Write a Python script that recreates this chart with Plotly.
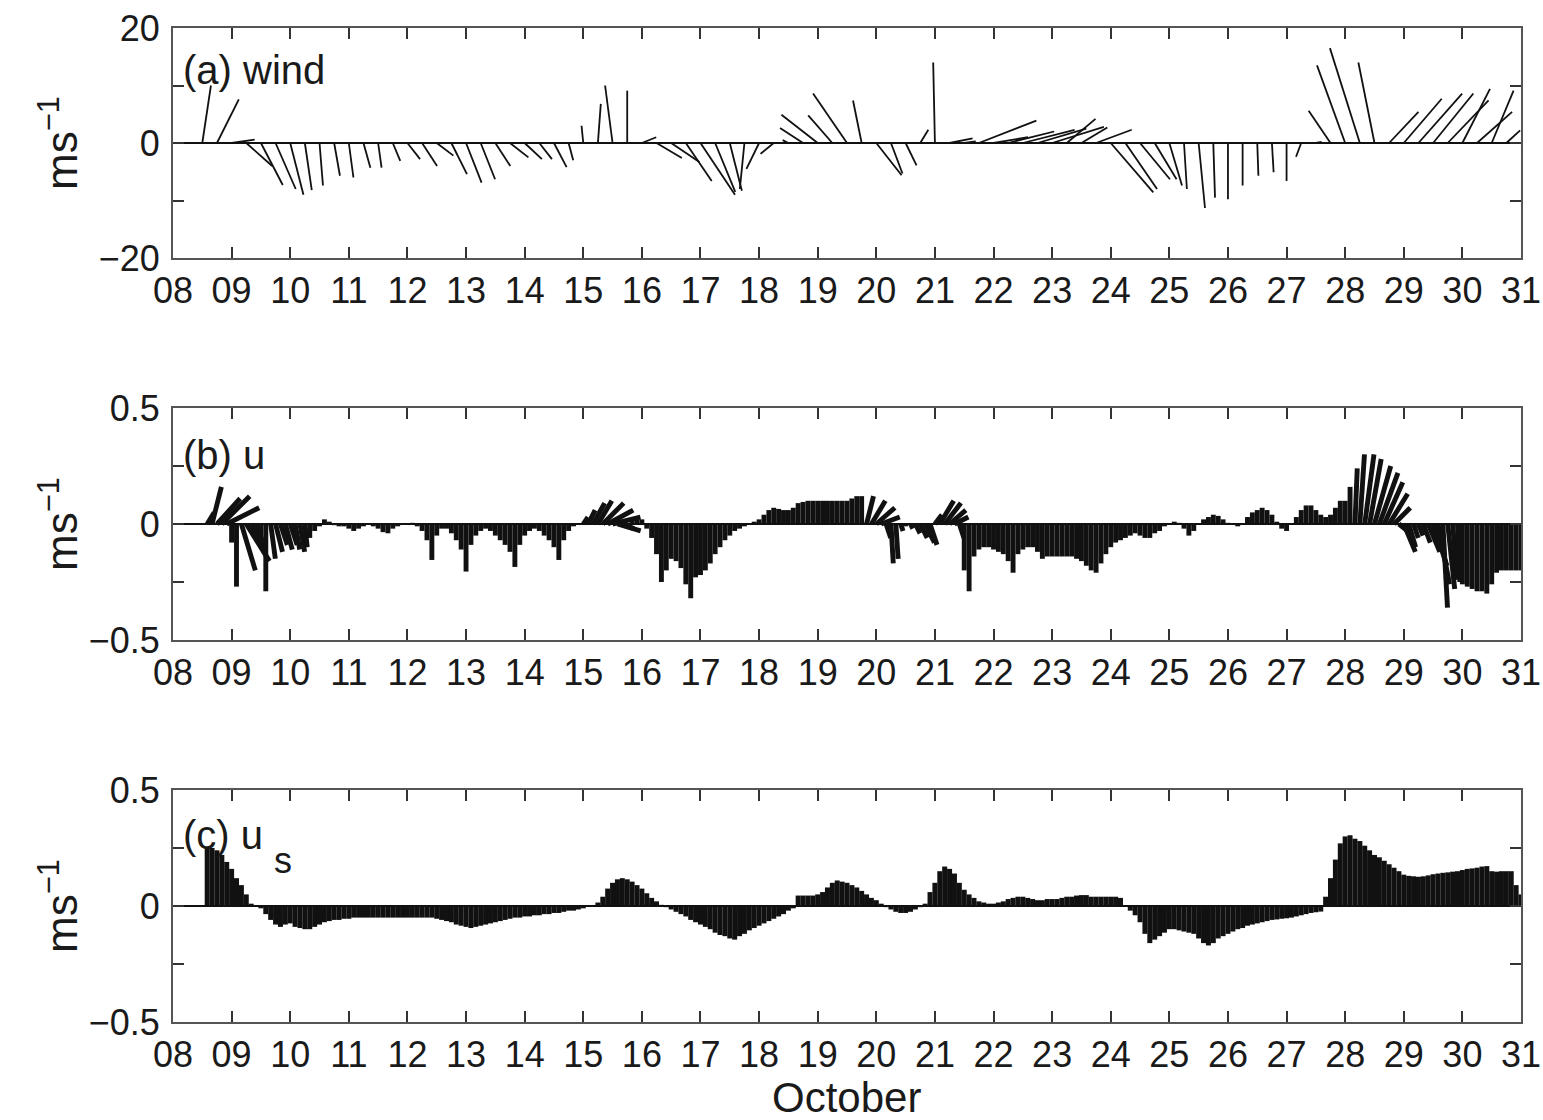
import numpy as np
import plotly.graph_objects as go

FIG_W, FIG_H = 1543, 1120
FONT = "Liberation Sans, Arial, Helvetica, sans-serif"

# day-of-October ticks shared by all panels
day_ticks = list(range(8, 32))
day_labels = [f"{d:02d}" for d in day_ticks]

# ---------------- (a) wind, 6-hourly from 08.5 Oct (m s-1) ----------------
wind_start, wind_step = 8.5, 0.25
wind_u = [
    1.5, 3.8,                                   # 08
    4.0, 4.5, 3.8, 3.5,                         # 09
    2.3, 1.2, 0.6, 1.0,                         # 10
    0.8, 1.2, 0.6, 1.3,                         # 11
    2.2, 2.6, 2.9, 2.7,                         # 12
    2.7, 2.5, 2.6, 3.2,                         # 13
    3.0, 2.2, 2.2, 0.8,                         # 14
    -0.3, 0.5, -1.3, 0.0,                       # 15
    2.5, 4.4, 4.9, 4.5,                         # 16
    6.0, 3.5, 2.1, -0.8,                        # 17
    -2.2, -2.3, -1.0, -4.0,                     # 18
    -6.3, -4.2, -5.9, -1.5,                     # 19
    4.4, 2.0, 1.9, 1.4,                         # 20
    -0.3, 4.0, 2.0, 10.0,                       # 21
    6.0, 8.0, 9.0, 8.5,                         # 22
    9.0, 5.0, 4.5, 6.2,                         # 23
    7.4, 5.5, 5.2, 3.8,                         # 24
    2.2, 0.5, 1.1, 0.3,                         # 25
    0.0, 0.0, 0.2, 0.3,                         # 26
    0.0, -0.9, 1.0, -3.8,                       # 27
    -4.9, -5.2, -2.8, 5.1,                      # 28
    6.6, 7.6, 7.0, 7.1,                         # 29
    4.8, 6.1, 3.8, 2.4,                         # 30
    2.3,                                        # 31
]
wind_v = [
    10.0, 7.6,
    0.6, -4.0, -7.3, -8.0,
    -9.0, -8.2, -7.4, -5.7,
    -6.0, -4.3, -4.3, -3.1,
    -2.8, -4.0, -2.2, -5.4,
    -6.9, -6.3, -4.0, -2.5,
    -2.8, -2.8, -4.2, -3.0,
    3.0, 6.8, 10.0, 9.1,
    1.0, -2.6, -3.3, -6.6,
    -9.0, -8.5, -8.3, -8.0,
    -4.5, -1.9, 0.5, 2.6,
    4.9, 4.8, 8.6, 7.4,
    -5.6, -5.3, -3.9, 2.3,
    14.0, 0.8, 0.3, 3.9,
    1.0, 2.0, 2.3, 2.5,
    2.8, 4.2, 2.7, 2.3,
    -8.6, -8.0, -6.3, -6.3,
    -7.4, -8.0, -11.3, -9.5,
    -9.8, -7.4, -5.7, -5.1,
    -6.6, -2.4, 0.2, 5.6,
    13.5, 16.5, 14.0, 5.4,
    7.7, 8.6, 8.6, 7.4,
    9.4, 5.4, 9.1, 2.2,
    -2.2,
]

# ---------------- (b) current u, 2-hourly from 08.5 Oct (m s-1) ----------------
cur_start, cur_step = 8.5, 1.0 / 12.0
cur_u = [
    0.00, 0.03, 0.04, 0.10, 0.12, 0.14,                                   # 08
    0.00, 0.00, 0.06, 0.10, 0.06, 0.03, 0.00, 0.00, 0.02, 0.03, 0.03, 0.03,  # 09
    0.03, 0.02, 0.02, 0.01, 0.00, 0.00, 0.00, 0.00, 0.00, 0.00, 0.00, 0.00,  # 10
    0.00, 0.00, 0.00, 0.00, 0.00, 0.00, 0.00, 0.00, 0.00, 0.00, 0.00, 0.00,  # 11
    0.00, 0.00, 0.00, 0.00, 0.00, 0.00, 0.00, 0.00, 0.00, 0.00, 0.00, 0.00,  # 12
    0.00, 0.00, 0.00, 0.00, 0.00, 0.00, 0.00, 0.00, 0.00, 0.00, 0.00, 0.00,  # 13
    0.00, 0.00, 0.00, 0.00, 0.00, 0.00, 0.00, 0.00, 0.00, 0.00, 0.00, 0.00,  # 14
    0.02, 0.03, 0.05, 0.06, 0.09, 0.11, 0.12, 0.10, 0.05, 0.00, 0.00, 0.00,  # 15
    0.00, 0.00, 0.00, 0.00, 0.00, 0.00, 0.00, 0.00, 0.00, 0.00, 0.00, 0.00,  # 16
    0.00, 0.00, 0.00, 0.00, 0.00, 0.00, 0.00, 0.00, 0.00, 0.00, 0.00, 0.00,  # 17
    0.00, 0.00, 0.00, 0.00, 0.00, 0.00, 0.00, 0.00, 0.00, 0.00, 0.00, 0.00,  # 18
    0.00, 0.00, 0.00, 0.00, 0.00, 0.00, 0.00, 0.00, 0.00, 0.00, 0.03, 0.06,  # 19
    0.08, 0.08, 0.02, 0.01, 0.01, 0.01, 0.00, 0.01, 0.02, 0.03, 0.04, 0.03,  # 20
    0.03, 0.06, 0.07, 0.07, 0.06, 0.02, 0.00, 0.00, 0.00, 0.00, 0.00, 0.00,  # 21
    0.00, 0.00, 0.00, 0.00, 0.00, 0.00, 0.00, 0.00, 0.00, 0.00, 0.00, 0.00,  # 22
    0.00, 0.00, 0.00, 0.00, 0.00, 0.00, 0.00, 0.00, 0.00, 0.00, 0.00, 0.00,  # 23
    0.00, 0.00, 0.00, 0.00, 0.00, 0.00, 0.00, 0.00, 0.00, 0.00, 0.00, 0.00,  # 24
    0.00, 0.00, 0.00, 0.00, 0.00, 0.00, 0.00, 0.00, 0.00, 0.00, 0.00, 0.00,  # 25
    0.00, 0.00, 0.00, 0.00, 0.00, 0.00, 0.00, 0.00, 0.00, 0.00, 0.00, 0.00,  # 26
    0.00, 0.00, 0.00, 0.00, 0.00, 0.00, 0.00, 0.00, 0.00, 0.00, 0.00, 0.00,  # 27
    0.00, 0.00, 0.01, 0.02, 0.04, 0.05, 0.07, 0.08, 0.08, 0.08, 0.07, 0.05,  # 28
    0.05, 0.03, 0.02, 0.02, 0.03, 0.05, 0.06, 0.05, 0.02, 0.03, 0.02, 0.01,  # 29
    0.00, 0.00, 0.00, 0.00, 0.00, 0.00, 0.00, 0.00, 0.00, 0.00, 0.00, 0.00,  # 30
    0.00,                                                                 # 31
]
cur_v = [
    0.00, 0.05, 0.16, 0.11, 0.12, 0.07,
    -0.08, -0.27, -0.20, -0.16, -0.10, -0.08, -0.10, -0.29, -0.15, -0.12, -0.09, -0.11,
    -0.09, -0.11, -0.12, -0.10, -0.06, -0.03, -0.01, 0.02, 0.01, -0.005, -0.01, -0.01,
    -0.02, -0.03, -0.02, -0.01, 0.00, -0.01, -0.02, -0.035, -0.04, -0.02, -0.01, 0.00,
    0.00, 0.005, -0.01, -0.03, -0.07, -0.155, -0.05, -0.02, -0.02, -0.04, -0.07, -0.11,
    -0.205, -0.09, -0.05, -0.03, -0.02, -0.03, -0.05, -0.07, -0.09, -0.12, -0.185, -0.09,
    -0.05, -0.03, -0.02, -0.03, -0.05, -0.07, -0.10, -0.155, -0.07, -0.03, -0.01, 0.00,
    0.03, 0.06, 0.09, 0.10, 0.09, 0.06, 0.03, -0.03, -0.02, 0.00, 0.025, 0.03,
    0.02, -0.02, -0.06, -0.13, -0.25, -0.20, -0.15, -0.16, -0.19, -0.26, -0.32, -0.23,
    -0.22, -0.20, -0.17, -0.13, -0.10, -0.07, -0.05, -0.03, -0.02, -0.01, 0.00, 0.01,
    0.02, 0.04, 0.06, 0.07, 0.065, 0.06, 0.06, 0.07, 0.09, 0.095, 0.10, 0.10,
    0.10, 0.10, 0.10, 0.10, 0.10, 0.10, 0.10, 0.11, 0.12, 0.12, 0.12, 0.10,
    0.07, 0.03, -0.06, -0.17, -0.15, -0.03, -0.01, -0.02, -0.04, -0.06, -0.08, -0.09,
    0.04, 0.10, 0.09, 0.06, 0.03, -0.06, -0.20, -0.29, -0.14, -0.11, -0.10, -0.10,
    -0.11, -0.12, -0.13, -0.16, -0.21, -0.13, -0.11, -0.10, -0.10, -0.12, -0.15, -0.14,
    -0.14, -0.14, -0.14, -0.14, -0.14, -0.15, -0.16, -0.18, -0.20, -0.21, -0.17, -0.13,
    -0.10, -0.08, -0.07, -0.06, -0.05, -0.04, -0.05, -0.06, -0.06, -0.04, -0.03, -0.01,
    0.00, 0.01, 0.005, -0.02, -0.05, -0.03, 0.00, 0.02, 0.03, 0.04, 0.035, 0.02,
    0.005, 0.00, -0.01, 0.00, 0.03, 0.05, 0.06, 0.07, 0.06, 0.04, 0.01, -0.02,
    -0.03, 0.00, 0.03, 0.06, 0.08, 0.08, 0.06, 0.04, 0.03, 0.04, 0.07, 0.10,
    0.10, 0.16, 0.24, 0.30, 0.30, 0.28, 0.25, 0.22, 0.18, 0.13, 0.07, -0.04,
    -0.12, -0.10, -0.06, -0.05, -0.08, -0.12, -0.18, -0.26, -0.36, -0.28, -0.24, -0.25,
    -0.26, -0.27, -0.28, -0.29, -0.29, -0.30, -0.26, -0.21, -0.20, -0.20, -0.20, -0.20,
    -0.20,
]

# ---------------- (c) u_s, 2-hourly from 08.5 Oct (m s-1) ----------------
us_u = [
    0.00, 0.00, 0.00, 0.00, 0.00, 0.00,                                   # 08
    0.00, 0.00, 0.00, 0.00, 0.00, 0.00, 0.00, 0.00, 0.00, 0.00, 0.00, 0.00,  # 09
    0.00, 0.00, 0.00, 0.00, 0.00, 0.00, 0.00, 0.00, 0.00, 0.00, 0.00, 0.00,  # 10
    0.00, 0.00, 0.00, 0.00, 0.00, 0.00, 0.00, 0.00, 0.00, 0.00, 0.00, 0.00,  # 11
    0.00, 0.00, 0.00, 0.00, 0.00, 0.00, 0.00, 0.00, 0.00, 0.00, 0.00, 0.00,  # 12
    0.00, 0.00, 0.00, 0.00, 0.00, 0.00, 0.00, 0.00, 0.00, 0.00, 0.00, 0.00,  # 13
    0.00, 0.00, 0.00, 0.00, 0.00, 0.00, 0.00, 0.00, 0.00, 0.00, 0.00, 0.00,  # 14
    0.00, 0.00, 0.00, 0.00, 0.00, 0.00, 0.00, 0.00, 0.00, 0.00, 0.00, 0.00,  # 15
    0.00, 0.00, 0.00, 0.00, 0.00, 0.00, 0.00, 0.00, 0.00, 0.00, 0.00, 0.00,  # 16
    0.00, 0.00, 0.00, 0.00, 0.00, 0.00, 0.00, 0.00, 0.00, 0.00, 0.00, 0.00,  # 17
    0.00, 0.00, 0.00, 0.00, 0.00, 0.00, 0.00, 0.00, 0.00, 0.00, 0.00, 0.00,  # 18
    0.00, 0.00, 0.00, 0.00, 0.00, 0.00, 0.00, 0.00, 0.00, 0.00, 0.00, 0.00,  # 19
    0.00, 0.00, 0.00, 0.00, 0.00, 0.00, 0.00, 0.00, 0.00, 0.00, 0.00, 0.00,  # 20
    0.00, 0.00, 0.00, 0.00, 0.00, 0.00, 0.00, 0.00, 0.00, 0.00, 0.00, 0.00,  # 21
    0.00, 0.00, 0.00, 0.00, 0.00, 0.00, 0.00, 0.00, 0.00, 0.00, 0.00, 0.00,  # 22
    0.00, 0.00, 0.00, 0.00, 0.00, 0.00, 0.00, 0.00, 0.00, 0.00, 0.00, 0.00,  # 23
    0.00, 0.00, 0.00, 0.00, 0.00, 0.00, 0.00, 0.00, 0.00, 0.00, 0.00, 0.00,  # 24
    0.00, 0.00, 0.00, 0.00, 0.00, 0.00, 0.00, 0.00, 0.00, 0.00, 0.00, 0.00,  # 25
    0.00, 0.00, 0.00, 0.00, 0.00, 0.00, 0.00, 0.00, 0.00, 0.00, 0.00, 0.00,  # 26
    0.00, 0.00, 0.00, 0.00, 0.00, 0.00, 0.00, 0.00, 0.00, 0.00, 0.00, 0.00,  # 27
    0.00, 0.00, 0.00, 0.00, 0.00, 0.00, 0.00, 0.00, 0.00, 0.00, 0.00, 0.00,  # 28
    0.00, 0.00, 0.00, 0.00, 0.00, 0.00, 0.00, 0.00, 0.00, 0.00, 0.00, 0.00,  # 29
    0.00, 0.00, 0.00, 0.00, 0.00, 0.00, 0.00, 0.00, 0.00, 0.00, 0.00, 0.00,  # 30
    0.00,                                                                 # 31
]
us_v = [
    0.00, 0.25, 0.25, 0.24, 0.22, 0.19,
    0.16, 0.12, 0.09, 0.05, 0.01, 0.00, -0.01, -0.035, -0.06, -0.08, -0.09, -0.08,
    -0.075, -0.09, -0.095, -0.10, -0.10, -0.09, -0.08, -0.07, -0.065, -0.06, -0.06, -0.055,
    -0.055, -0.05, -0.05, -0.05, -0.05, -0.05, -0.05, -0.05, -0.05, -0.05, -0.05, -0.05,
    -0.05, -0.05, -0.05, -0.05, -0.05, -0.05, -0.055, -0.06, -0.065, -0.07, -0.08, -0.085,
    -0.09, -0.095, -0.09, -0.085, -0.08, -0.075, -0.07, -0.065, -0.06, -0.055, -0.05, -0.05,
    -0.045, -0.045, -0.04, -0.04, -0.035, -0.035, -0.03, -0.03, -0.025, -0.02, -0.02, -0.015,
    -0.01, 0.00, 0.00, 0.015, 0.04, 0.075, 0.10, 0.115, 0.12, 0.115, 0.105, 0.09,
    0.075, 0.055, 0.035, 0.02, 0.005, -0.005, -0.015, -0.025, -0.035, -0.045, -0.06, -0.07,
    -0.08, -0.09, -0.10, -0.115, -0.125, -0.13, -0.14, -0.145, -0.13, -0.12, -0.105, -0.095,
    -0.085, -0.075, -0.065, -0.055, -0.045, -0.035, -0.02, -0.01, 0.045, 0.045, 0.045, 0.045,
    0.05, 0.06, 0.08, 0.10, 0.11, 0.105, 0.10, 0.09, 0.08, 0.065, 0.05, 0.035,
    0.025, 0.01, -0.005, -0.015, -0.025, -0.03, -0.03, -0.025, -0.015, -0.005, 0.01, 0.06,
    0.10, 0.15, 0.17, 0.16, 0.14, 0.10, 0.07, 0.05, 0.035, 0.02, 0.015, 0.01,
    0.01, 0.015, 0.02, 0.03, 0.035, 0.04, 0.04, 0.035, 0.03, 0.025, 0.025, 0.03,
    0.03, 0.03, 0.035, 0.04, 0.04, 0.045, 0.047, 0.047, 0.04, 0.04, 0.04, 0.04,
    0.04, 0.04, 0.035, 0.00, -0.02, -0.04, -0.07, -0.12, -0.16, -0.145, -0.13, -0.115,
    -0.10, -0.10, -0.105, -0.11, -0.115, -0.12, -0.14, -0.16, -0.17, -0.16, -0.14, -0.13,
    -0.12, -0.11, -0.10, -0.095, -0.085, -0.08, -0.075, -0.07, -0.065, -0.06, -0.058, -0.055,
    -0.053, -0.05, -0.045, -0.04, -0.035, -0.03, -0.027, -0.024, 0.04, 0.12, 0.20, 0.27,
    0.30, 0.305, 0.29, 0.28, 0.26, 0.24, 0.22, 0.21, 0.195, 0.18, 0.165, 0.15,
    0.135, 0.13, 0.128, 0.126, 0.128, 0.132, 0.137, 0.14, 0.143, 0.145, 0.148, 0.15,
    0.155, 0.16, 0.162, 0.165, 0.17, 0.172, 0.15, 0.148, 0.15, 0.15, 0.15, 0.09,
    0.05,
]

assert len(wind_u) == len(wind_v)
assert len(cur_u) == len(cur_v) == len(us_u) == len(us_v)

# ---------------- layout geometry (pixels) ----------------
X_LEFT, X_RIGHT = 173, 1521
PANELS = [  # (top px, bottom px, y range, labelled ticks, tick labels, minor ticks)
    (28, 258, (-20, 20), [-20, 0, 20], ["\u221220", "0", "20"], [-10, 10]),
    (408, 640, (-0.5, 0.5), [-0.5, 0, 0.5], ["\u22120.5", "0", "0.5"], [-0.25, 0.25]),
    (790, 1022, (-0.5, 0.5), [-0.5, 0, 0.5], ["\u22120.5", "0", "0.5"], [-0.25, 0.25]),
]
X_RANGE = (8, 31)


def stick_xy(t0, dt, u, v, y_range, top, bottom):
    """Stick-plot segments from (t,0) to (t + u*k, v); k keeps angles true on screen."""
    u = np.asarray(u, float)
    v = np.asarray(v, float)
    t = t0 + dt * np.arange(len(u))
    px_per_day = (X_RIGHT - X_LEFT) / (X_RANGE[1] - X_RANGE[0])
    px_per_unit = (bottom - top) / (y_range[1] - y_range[0])
    k = px_per_unit / px_per_day
    n = len(t)
    xs = np.full(3 * n, np.nan)
    ys = np.full(3 * n, np.nan)
    xs[0::3] = t
    xs[1::3] = t + u * k
    ys[0::3] = 0.0
    ys[1::3] = v
    return xs, ys


series = [
    (wind_start, wind_step, wind_u, wind_v, 1.8),
    (cur_start, cur_step, cur_u, cur_v, 4.9),
    (cur_start, cur_step, us_u, us_v, 5.0),
]

fig = go.Figure()
for i, (panel, (t0, dt, u, v, lw)) in enumerate(zip(PANELS, series)):
    top, bot, yr = panel[0], panel[1], panel[2]
    xs, ys = stick_xy(t0, dt, u, v, yr, top, bot)
    sfx = "" if i == 0 else str(i + 1)
    fig.add_trace(go.Scatter(
        x=xs, y=ys, mode="lines",
        line=dict(color="#111111", width=lw),
        xaxis="x" + sfx, yaxis="y" + sfx,
        showlegend=False, hoverinfo="skip",
    ))

axis_common = dict(
    showgrid=False, showline=True, linecolor="#555555", linewidth=2,
    mirror="ticks", ticks="inside", ticklen=11, tickwidth=1.6, tickcolor="#333333",
    tickfont=dict(family=FONT, size=36, color="#1a1a1a"),
    automargin=False,
)

layout = dict(
    width=FIG_W, height=FIG_H,
    margin=dict(l=0, r=0, t=0, b=0, pad=0, autoexpand=False),
    paper_bgcolor="white", plot_bgcolor="white",
    showlegend=False,
)

for i, (top, bot, yr, tv, tt, mv) in enumerate(PANELS):
    sfx = "" if i == 0 else str(i + 1)
    ydom = [1 - bot / FIG_H, 1 - top / FIG_H]
    layout["xaxis" + sfx] = dict(
        axis_common,
        domain=[X_LEFT / FIG_W, X_RIGHT / FIG_W],
        range=list(X_RANGE), tickvals=day_ticks, ticktext=day_labels,
        zeroline=False, anchor="y" + sfx, ticklabelstandoff=0,
    )
    layout["yaxis" + sfx] = dict(
        axis_common,
        domain=ydom, range=list(yr), tickvals=tv, ticktext=tt,
        minor=dict(tickvals=mv, ticks="inside", ticklen=11, tickwidth=1.6,
                   tickcolor="#333333", showgrid=False),
        zeroline=True, zerolinecolor="#111111", zerolinewidth=1.6,
        anchor="x" + sfx, ticklabelstandoff=4,
    )

fig.update_layout(**layout)

# panel tags
tag_font = dict(family=FONT, size=40, color="#1a1a1a")
for text, ypx in [("(a) wind", 70), ("(b) u", 455), ("(c) u", 835)]:
    fig.add_annotation(
        x=181 / FIG_W, y=1 - ypx / FIG_H, xref="paper", yref="paper",
        text=text, showarrow=False, xanchor="left", yanchor="middle",
        font=tag_font,
    )
# subscript of u_s, set low and almost full size
fig.add_annotation(
    x=272 / FIG_W, y=1 - 860 / FIG_H, xref="paper", yref="paper",
    text="s", showarrow=False, xanchor="left", yanchor="middle",
    font=dict(family=FONT, size=36, color="#1a1a1a"),
)

# y-axis titles
for ypx in (143, 524, 906):
    fig.add_annotation(
        x=58 / FIG_W, y=1 - ypx / FIG_H, xref="paper", yref="paper",
        text="ms<sup>\u22121</sup>", showarrow=False, textangle=-90,
        xanchor="center", yanchor="middle",
        font=dict(family=FONT, size=44, color="#1a1a1a"),
    )

# shared x-axis title
fig.add_annotation(
    x=847 / FIG_W, y=0, xref="paper", yref="paper",
    text="October", showarrow=False, xanchor="center", yanchor="bottom",
    yshift=-3,
    font=dict(family=FONT, size=42, color="#1a1a1a"),
)

fig.write_html("out.html")
